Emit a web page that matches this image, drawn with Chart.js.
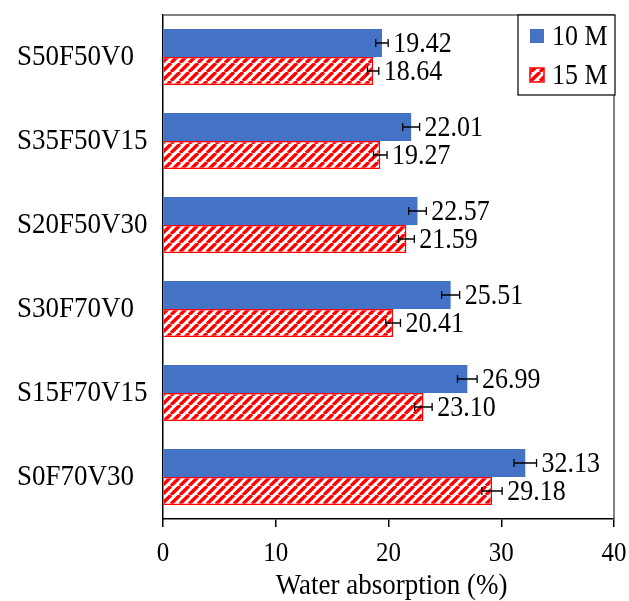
<!DOCTYPE html>
<html>
<head>
<meta charset="utf-8">
<script src="https://cdn.jsdelivr.net/npm/chart.js@4.4.1/dist/chart.umd.min.js"></script>
<style>
    html, body { margin: 0; padding: 0; background: #fff; }
    #wrap { width: 629px; height: 601px; }
</style>
</head>
<body>
<div id="wrap"><canvas id="absChart"></canvas></div>
<script>
// Data
var categories = ['S50F50V0', 'S35F50V15', 'S20F50V30', 'S30F70V0', 'S15F70V15', 'S0F70V30'];
var seriesNames = ['10 M', '15 M'];
var values10M = [19.42, 22.01, 22.57, 25.51, 26.99, 32.13];
var values15M = [18.64, 19.27, 21.59, 20.41, 23.10, 29.18];
var errors10M = [0.55, 0.75, 0.78, 0.80, 0.87, 1.00];
var errors15M = [0.50, 0.60, 0.70, 0.65, 0.77, 0.90];
var xTicks = [0, 10, 20, 30, 40];
var axisTitle = 'Water absorption (%)';

var BLUE = '#4472C4';
var RED = '#FF0000';
var FONT = "'Liberation Serif', 'Times New Roman', serif";

Chart.defaults.font.family = FONT;
Chart.defaults.color = '#000';

// Red diagonal hatch on white
function makeHatch(color) {
    var size = 9;
    var c = document.createElement('canvas');
    c.width = size;
    c.height = size;
    var g = c.getContext('2d');
    g.fillStyle = '#fff';
    g.fillRect(0, 0, size, size);
    g.strokeStyle = color;
    g.lineWidth = 3.4;
    g.beginPath();
    [-size, 0, size].forEach(function(k) {
        g.moveTo(k, size);
        g.lineTo(k + size, 0);
    });
    g.stroke();
    return g.createPattern(c, 'repeat');
}
var hatch = makeHatch(RED);

// Text is a bit taller than wide in the original figure
function drawText(ctx, str, x, y, size, align) {
    ctx.save();
    ctx.translate(x, y);
    ctx.scale(1, 1.12);
    ctx.font = size + 'px ' + FONT;
    ctx.fillStyle = '#000';
    ctx.textAlign = align;
    ctx.textBaseline = 'middle';
    ctx.fillText(str, 0, 0);
    ctx.restore();
}

// Frame, labels, error bars, value labels and legend box
var extrasPlugin = {
    id: 'extras',
    beforeDatasetsDraw: function(chart) {
        var ctx = chart.ctx, a = chart.chartArea;
        var xs = chart.scales.x, ys = chart.scales.y;
        ctx.save();
        ctx.strokeStyle = '#595959';
        ctx.lineWidth = 1.5;
        ctx.beginPath();
        ctx.moveTo(a.left, a.top);
        ctx.lineTo(a.right, a.top);
        ctx.lineTo(a.right, a.bottom);
        ctx.stroke();
        ctx.restore();

        // category labels
        categories.forEach(function(c, i) {
            drawText(ctx, c, 17, ys.getPixelForValue(i), 27, 'left');
        });
        // x tick labels
        xTicks.forEach(function(v) {
            drawText(ctx, String(v), xs.getPixelForValue(v), a.bottom + 35, 25, 'center');
        });
        // axis title
        drawText(ctx, axisTitle, (a.left + a.right) / 2 + 3, a.bottom + 67, 27, 'center');
    },
    afterDatasetsDraw: function(chart) {
        var ctx = chart.ctx, xs = chart.scales.x;
        ctx.save();
        ctx.strokeStyle = '#000';
        ctx.lineWidth = 1.3;
        chart.data.datasets.forEach(function(ds, i) {
            var meta = chart.getDatasetMeta(i);
            meta.data.forEach(function(bar, j) {
                var v = ds.data[j], e = ds.errors[j];
                var x0 = xs.getPixelForValue(v - e);
                var x1 = xs.getPixelForValue(v + e);
                var y = bar.y;
                ctx.beginPath();
                ctx.moveTo(x0, y);
                ctx.lineTo(x1, y);
                ctx.moveTo(x0, y - 4);
                ctx.lineTo(x0, y + 4);
                ctx.moveTo(x1, y - 4);
                ctx.lineTo(x1, y + 4);
                ctx.stroke();
                drawText(ctx, v.toFixed(2), x1 + 5, y + 1, 26, 'left');
            });
        });
        ctx.restore();
    },
    afterDraw: function(chart) {
        var ctx = chart.ctx, a = chart.chartArea;
        var bx = a.right - 96, by = a.top, bw = 97, bh = 80;
        ctx.save();
        ctx.fillStyle = '#fff';
        ctx.fillRect(bx, by, bw, bh);
        ctx.strokeStyle = '#000';
        ctx.lineWidth = 1.2;
        ctx.strokeRect(bx, by, bw, bh);
        chart.data.datasets.forEach(function(ds, i) {
            var cy = by + 21 + i * 39;
            var sx = bx + 12;
            ctx.fillStyle = ds.backgroundColor;
            ctx.fillRect(sx, cy - 7, 14, 14);
            if (ds.borderWidth) {
                ctx.strokeStyle = ds.borderColor;
                ctx.lineWidth = 1.5;
                ctx.strokeRect(sx, cy - 7, 14, 14);
            }
            drawText(ctx, ds.label, sx + 22, cy + 1, 26, 'left');
        });
        ctx.restore();
    }
};

var ctx = document.getElementById('absChart');
var absChart = new Chart(ctx, {
    type: 'bar',
    data: {
        labels: categories,
        datasets: [{
            label: seriesNames[0],
            data: values10M,
            errors: errors10M,
            backgroundColor: BLUE,
            borderWidth: 0
        }, {
            label: seriesNames[1],
            data: values15M,
            errors: errors15M,
            backgroundColor: hatch,
            borderColor: RED,
            borderWidth: 1.5
        }]
    },
    options: {
        indexAxis: 'y',
        responsive: true,
        maintainAspectRatio: false,
        animation: false,
        categoryPercentage: 0.667,
        barPercentage: 1.0,
        layout: {
            padding: { top: 15, right: 15, bottom: 0, left: 17 }
        },
        scales: {
            x: {
                min: 0,
                max: 40,
                afterBuildTicks: function(scale) {
                    scale.ticks = xTicks.map(function(v) { return { value: v }; });
                },
                afterFit: function(scale) {
                    scale.height = 82;
                },
                grid: {
                    drawOnChartArea: false,
                    drawTicks: true,
                    tickLength: 8,
                    color: '#000',
                    lineWidth: 1.5
                },
                border: {
                    color: '#000',
                    width: 1.5
                },
                ticks: {
                    display: false
                }
            },
            y: {
                afterFit: function(scale) {
                    scale.width = 146;
                },
                grid: {
                    display: false
                },
                border: {
                    display: true,
                    color: '#000',
                    width: 1.5
                },
                ticks: {
                    display: false
                }
            }
        },
        plugins: {
            legend: { display: false },
            tooltip: { enabled: false }
        }
    },
    plugins: [extrasPlugin]
});
</script>
</body>
</html>
